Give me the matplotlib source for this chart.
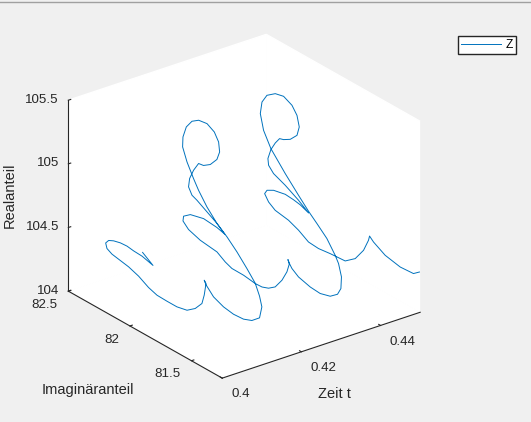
import matplotlib
matplotlib.use('Agg')
import matplotlib.pyplot as plt

plt.rcParams['font.family'] = ['Liberation Sans', 'DejaVu Sans']

# values
zeit = [0.40000,0.40036,0.40072,0.40108,0.40144,0.40180,0.40216,0.40252,0.40288,0.40324,0.40360,0.40396,0.40432,
        0.40468,0.40504,0.40540,0.40576,0.40612,0.40648,0.40684,0.40720,0.40756,0.40792,0.40828,0.40864,0.40900,
        0.40934,0.40969,0.41003,0.41038,0.41072,0.41107,0.41141,0.41176,0.41210,0.41245,0.41279,0.41314,0.41348,
        0.41383,0.41417,0.41452,0.41486,0.41521,0.41555,0.41590,0.41624,0.41659,0.41693,0.41728,0.41762,0.41797,
        0.41831,0.41866,0.41900,0.41934,0.41969,0.42003,0.42038,0.42072,0.42107,0.42141,0.42176,0.42210,0.42245,
        0.42279,0.42314,0.42348,0.42383,0.42417,0.42452,0.42486,0.42521,0.42555,0.42590,0.42624,0.42659,0.42693,
        0.42728,0.42762,0.42797,0.42831,0.42866,0.42900,
        0.42936,0.42971,0.43007,0.43043,0.43079,0.43114,0.43150,0.43186,0.43221,0.43257,0.43293,0.43329,0.43364,
        0.43400,0.43436,0.43471,0.43507,0.43543,0.43579,0.43614,0.43650,0.43686,0.43721,0.43757,0.43793,0.43829,
        0.43864,0.43900,0.43936,0.43971,0.44007,0.44043,0.44079,0.44114,0.44150,0.44186,0.44221,0.44257,0.44293,
        0.44329,0.44364,0.44400,0.44436,0.44471,0.44507,0.44543,0.44579,0.44614,0.44650,0.44686,0.44721,0.44757,
        0.44793,0.44829,0.44864,0.44900,0.44920,0.44940,0.44960,0.44980,0.45000]
imag = [81.897,81.824,81.879,81.936,82.016,82.081,82.147,82.213,82.265,82.301,
        82.302,82.273,82.231,82.161,82.091,82.022,81.965,81.896,81.826,81.756,
        81.701,81.658,81.651,81.648,81.674,81.672,81.621,81.551,81.481,81.411,
        81.354,81.303,81.295,81.325,81.371,81.450,81.542,81.634,81.726,81.819,
        81.898,81.950,82.014,82.061,82.069,82.053,82.018,81.975,81.918,81.870,
        81.846,81.849,81.882,81.947,82.013,82.064,82.116,82.159,82.179,82.162,
        82.133,82.062,81.992,81.940,82.015,82.134,82.253,82.319,82.335,82.301,
        82.217,82.092,82.036,81.993,81.909,81.826,81.782,81.740,81.697,81.653,
        81.624,81.616,81.638,81.634,81.628,81.586,81.502,81.433,81.363,81.315,
        81.299,81.306,81.341,81.380,81.459,81.551,81.631,81.724,81.843,81.971,
        82.042,82.080,82.078,82.049,81.993,81.937,81.880,81.851,81.844,81.874,
        81.940,82.006,82.050,82.096,82.143,82.179,82.185,82.156,82.073,81.976,
        81.906,81.985,82.051,82.130,82.236,82.301,82.332,82.311,82.269,82.172,
        82.102,82.033,81.963,81.879,81.837,81.781,81.711,81.655,81.626,81.629,
        81.603,81.515,81.399,81.298,81.256]
real = [104.634,104.568,104.570,104.572,104.566,104.564,104.550,104.526,
        104.497,104.454,104.406,104.374,104.354,104.328,104.289,104.234,104.201,104.188,
        104.178,104.186,104.226,104.285,104.351,104.440,104.448,104.411,104.339,104.295,
        104.272,104.268,104.285,104.330,104.417,104.481,104.554,104.623,104.700,104.764,
        104.815,104.891,104.975,105.035,105.127,105.216,105.286,105.370,105.430,105.458,
        105.459,105.416,105.347,105.263,105.183,105.104,105.057,105.041,104.956,104.864,
        104.784,104.724,104.697,104.640,104.584,104.525,104.533,104.534,104.497,104.445,
        104.395,104.343,104.301,104.274,104.222,104.191,104.180,104.157,104.150,104.160,
        104.190,104.263,104.341,104.402,104.423,104.385,104.351,104.304,104.267,104.250,
        104.263,104.301,104.351,104.435,104.517,104.557,104.642,104.705,104.755,104.826,
        104.927,105.050,105.151,105.258,105.346,105.411,105.451,105.457,105.414,105.347,
        105.256,105.170,105.099,105.057,105.037,104.974,104.893,104.799,104.739,104.686,
        104.636,104.567,104.502,104.519,104.519,104.515,104.485,104.446,104.399,104.341,
        104.295,104.266,104.222,104.164,104.147,104.149,104.143,104.138,104.191,104.283,
        104.374,104.402,104.367,104.309,104.278,104.280,104.313]

zeit_ticks = [0.4, 0.42, 0.44]
zeit_labels = ['0.4', '0.42', '0.44']
imag_ticks = [81.5, 82, 82.5]
imag_labels = ['81.5', '82', '82.5']
real_ticks = [104, 104.5, 105, 105.5]
real_labels = ['104', '104.5', '105', '105.5']

TXT = '#262626'

fig = plt.figure(figsize=(5.31, 4.22), dpi=100, facecolor='#f0f0f0')
S = 500
ax = fig.add_axes([(237.5 - S / 2) / 531, (422 - 213 - S / 2) / 422, S / 531, S / 422],
                  projection='3d', proj_type='ortho')
ax.set_box_aspect((249.6, 252.9, 212), zoom=0.803)
ax.view_init(elev=25.7, azim=-127.5)
ax.set_facecolor('none')
ax.set_xlim(0.4, 0.45, view_margin=0)
ax.set_ylim(81.25, 82.5, view_margin=0)
ax.set_zlim(104, 105.5, view_margin=0)

ax.plot(zeit, imag, real, color='#0072bd', lw=0.7, label='Z')

ax.grid(False)
ax.set_xticks(zeit_ticks, zeit_labels, fontsize=9.6, color=TXT, ha='left', va='center')
ax.set_yticks(imag_ticks, imag_labels, fontsize=9.6, color=TXT, ha='right', va='center')
ax.set_zticks(real_ticks, real_labels, fontsize=9.6, color=TXT, ha='right', va='center')
ax.tick_params(colors=TXT, width=0.6, pad=3)
ax.tick_params(axis='y', pad=2)
ax.tick_params(axis='z', pad=-3)
for axis in (ax.xaxis, ax.yaxis, ax.zaxis):
    axis.set_pane_color('white')
    axis.pane.set_edgecolor('white')
    axis.line.set_color(TXT)
    axis.line.set_linewidth(0.8)
    axis._axinfo['tick']['inward_factor'] = 0.0
    axis._axinfo['tick']['outward_factor'] = 0.15

# axis titles sit where MATLAB put them, the 3d labelpad cannot reach these spots
fig.text(334 / 531, 1 - 394 / 422, 'Zeit t', fontsize=10.56, color=TXT, ha='center', va='center')
fig.text(88 / 531, 1 - 390 / 422, 'Imaginäranteil', fontsize=10.56, color=TXT, ha='center', va='center')
fig.text(10 / 531, 1 - 195 / 422, 'Realanteil', fontsize=10.56, color=TXT, rotation=90, ha='center', va='center')

ax.legend(loc='upper left', bbox_to_anchor=(458 / 531, 1 - 36 / 422), bbox_transform=fig.transFigure,
          borderaxespad=0, fancybox=False, edgecolor=TXT, framealpha=1, fontsize=8.64, handlelength=3.3,
          borderpad=0.25, handletextpad=0.4)
fig.add_artist(plt.Line2D([0, 1], [1 - 2 / 422] * 2, transform=fig.transFigure, color='#a0a0a0', lw=1))

fig.savefig('out.png', dpi=100, facecolor=fig.get_facecolor())
